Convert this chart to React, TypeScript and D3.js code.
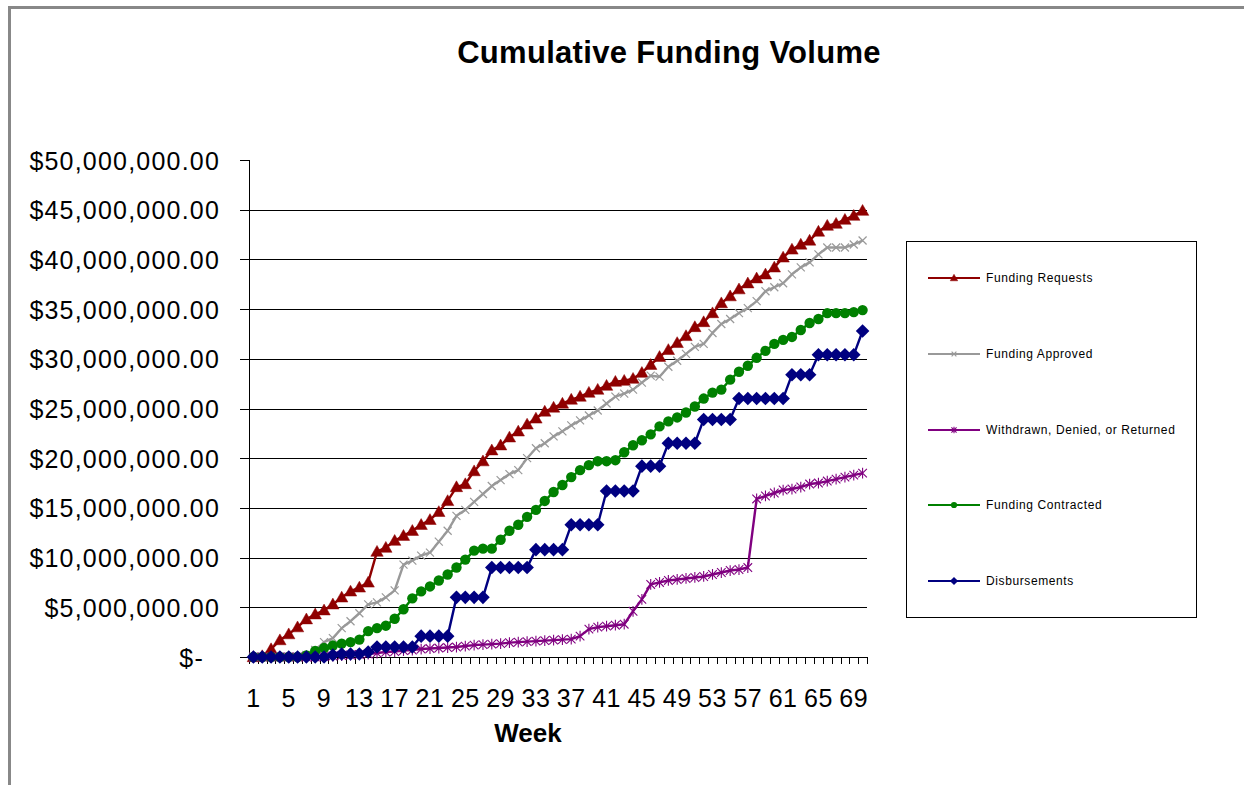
import React from "react";
import * as d3 from "d3";

const weeks: number[] = d3.range(1, 71);
const weekTickLabels: number[] = [1, 5, 9, 13, 17, 21, 25, 29, 33, 37, 41, 45, 49, 53, 57, 61, 65, 69];
const yTicks: number[] = [0, 5e6, 10e6, 15e6, 20e6, 25e6, 30e6, 35e6, 40e6, 45e6, 50e6];

// values in millions of dollars
const fundingRequests: number[] = [
  0, 0.1, 0.8, 1.7, 2.3, 3.0, 3.8, 4.3, 4.7, 5.3,
  6.0, 6.6, 7.0, 7.5, 10.6, 11.0, 11.7, 12.2, 12.7, 13.3,
  13.8, 14.6, 15.7, 17.1, 17.4, 18.7, 19.7, 20.8, 21.3, 22.1,
  22.7, 23.4, 24.0, 24.7, 25.1, 25.5, 25.9, 26.2, 26.6, 26.9,
  27.3, 27.7, 27.8, 28.0, 28.6, 29.4, 30.2, 30.9, 31.6, 32.3,
  33.2, 33.7, 34.6, 35.6, 36.3, 37.0, 37.6, 38.1, 38.5, 39.2,
  40.2, 41.0, 41.5, 41.9, 42.8, 43.4, 43.6, 44.0, 44.4, 44.9,
];
const fundingApproved: number[] = [
  0, 0, 0, 0, 0, 0, 0.2, 0.7, 1.5, 1.9,
  2.9, 3.6, 4.4, 5.3, 5.5, 6.0, 6.7, 9.3, 9.7, 10.2,
  10.5, 11.6, 12.7, 14.2, 14.8, 15.6, 16.4, 17.2, 17.8, 18.4,
  18.8, 20.0, 21.0, 21.5, 22.2, 22.7, 23.3, 23.8, 24.3, 24.8,
  25.5, 26.2, 26.5, 26.9, 27.6, 28.3, 28.2, 29.2, 29.8, 30.5,
  31.2, 31.5, 32.6, 33.5, 34.0, 34.6, 35.1, 35.8, 36.8, 37.2,
  37.6, 38.5, 39.2, 39.7, 40.5, 41.2, 41.2, 41.2, 41.5, 41.9,
];
const withdrawn: number[] = [
  0, 0, 0, 0, 0, 0, 0, 0, 0.05, 0.1,
  0.15, 0.2, 0.25, 0.3, 0.4, 0.5, 0.55, 0.65, 0.7, 0.8,
  0.85, 0.9, 0.95, 1.0, 1.1, 1.2, 1.25, 1.3, 1.35, 1.45,
  1.5, 1.55, 1.6, 1.65, 1.7, 1.75, 1.8, 2.1, 2.8, 3.0,
  3.1, 3.2, 3.3, 4.6, 5.8, 7.3, 7.5, 7.7, 7.8, 7.9,
  8.0, 8.1, 8.3, 8.5, 8.7, 8.8, 9.0, 15.9, 16.2, 16.5,
  16.8, 16.9, 17.1, 17.4, 17.5, 17.7, 17.9, 18.1, 18.3, 18.5,
];
const fundingContracted: number[] = [
  0, 0, 0, 0, 0, 0, 0.15, 0.6, 0.9, 1.15,
  1.35, 1.5, 1.75, 2.6, 2.9, 3.15, 3.85, 4.8, 5.9, 6.6,
  7.1, 7.7, 8.3, 9.0, 9.8, 10.7, 10.9, 10.9, 11.8, 12.7,
  13.3, 14.1, 14.8, 15.7, 16.6, 17.3, 18.1, 18.8, 19.3, 19.7,
  19.7, 19.8, 20.6, 21.3, 21.8, 22.4, 23.2, 23.7, 24.1, 24.6,
  25.2, 26.0, 26.6, 26.9, 27.9, 28.7, 29.3, 30.1, 30.8, 31.5,
  31.9, 32.2, 32.9, 33.6, 34.0, 34.6, 34.6, 34.6, 34.7, 34.9,
];
const disbursements: number[] = [
  0, 0, 0, 0, 0, 0, 0, 0, 0, 0.2,
  0.3, 0.3, 0.3, 0.5, 1.0, 1.0, 1.0, 1.0, 1.0, 2.1,
  2.1, 2.1, 2.1, 6.0, 6.0, 6.0, 6.0, 9.0, 9.0, 9.0,
  9.0, 9.0, 10.8, 10.8, 10.8, 10.8, 13.3, 13.3, 13.3, 13.3,
  16.7, 16.7, 16.7, 16.7, 19.2, 19.2, 19.2, 21.5, 21.5, 21.5,
  21.5, 23.9, 23.9, 23.9, 23.9, 26.0, 26.0, 26.0, 26.0, 26.0,
  26.0, 28.4, 28.4, 28.4, 30.4, 30.4, 30.4, 30.4, 30.4, 32.8,
];

type Marker = "triangle" | "x" | "star" | "circle" | "diamond";
const seriesNames: string[] = [
  "Funding Requests",
  "Funding Approved",
  "Withdrawn, Denied, or Returned",
  "Funding Contracted",
  "Disbursements",
];
const seriesValues: number[][] = [fundingRequests, fundingApproved, withdrawn, fundingContracted, disbursements];
const seriesColors: string[] = ["#8f0000", "#999999", "#800080", "#008000", "#000080"];
const seriesMarkers: Marker[] = ["triangle", "x", "star", "circle", "diamond"];

const FONT = "'Liberation Sans', Arial, sans-serif";

function MarkerShape({ type, color, cx, cy, s }: { type: Marker; color: string; cx: number; cy: number; s: number }) {
  const t = `translate(${cx},${cy})`;
  if (type === "triangle") {
    const r = 6.2 * s;
    return <path transform={t} d={`M0,${-r}L${r},${r * 0.75}L${-r},${r * 0.75}Z`} fill={color} stroke={color} strokeWidth={0.5} />;
  }
  if (type === "circle") {
    return <circle cx={cx} cy={cy} r={5.2 * s} fill={color} />;
  }
  if (type === "diamond") {
    const r = 6.8 * s;
    return <path transform={t} d={`M0,${-r}L${r},0L0,${r}L${-r},0Z`} fill={color} />;
  }
  if (type === "x") {
    const r = 4 * s;
    return <path transform={t} d={`M${-r},${-r}L${r},${r}M${-r},${r}L${r},${-r}`} stroke={color} strokeWidth={1.2} fill="none" />;
  }
  const r = 4.3 * s;
  return (
    <path
      transform={t}
      d={`M${-r},${-r}L${r},${r}M${-r},${r}L${r},${-r}M0,${-r * 1.25}V${r * 1.25}`}
      stroke={color}
      strokeWidth={1.1}
      fill="none"
    />
  );
}

export default function App() {
  const left = 249, right = 867, top = 160, bottom = 657;
  const x = d3.scaleBand<number>().domain(weeks).range([left, right]).padding(0);
  const y = d3.scaleLinear().domain([0, 50e6]).range([bottom, top]);
  const cx = (w: number) => (x(w) as number) + x.bandwidth() / 2;
  const fmt = d3.format("$,.2f");
  const line = d3
    .line<number>()
    .x((_, i) => cx(weeks[i]))
    .y((v) => y(v * 1e6));

  const boundaries = d3.range(0, weeks.length + 1).map((i) => left + i * x.bandwidth());
  const legendY = [278, 354, 430, 505, 581];

  return (
    <svg width={1244} height={785} style={{ position: "absolute", left: 0, top: 0, background: "#fff" }} fontFamily={FONT}>
      <rect x={0} y={0} width={1244} height={785} fill="#fff" />
      <path d="M9.5,800V7.5H1260" fill="none" stroke="#888" strokeWidth={3} />

      <text x={669} y={63} textAnchor="middle" fontSize={31} fontWeight="bold" letterSpacing={0.3} fill="#000">
        Cumulative Funding Volume
      </text>

      {/* gridlines */}
      {yTicks
        .filter((t) => t > 0 && t < 50e6)
        .map((t) => (
          <line key={"g" + t} x1={left} x2={right} y1={Math.round(y(t)) + 0.5} y2={Math.round(y(t)) + 0.5} stroke="#000" strokeWidth={1} />
        ))}

      {/* y axis */}
      <line x1={left + 0.5} x2={left + 0.5} y1={top} y2={bottom} stroke="#000" strokeWidth={1} />
      {yTicks.map((t) => (
        <g key={"y" + t}>
          <line x1={240} x2={left} y1={Math.round(y(t)) + 0.5} y2={Math.round(y(t)) + 0.5} stroke="#000" strokeWidth={1} />
          <text x={t === 0 ? 204 : 220} y={y(t) + 9.5} textAnchor="end" fontSize={25} letterSpacing={1.2} fill="#000">
            {t === 0 ? "$-" : fmt(t)}
          </text>
        </g>
      ))}

      {/* x axis */}
      <line x1={left} x2={right} y1={bottom + 0.5} y2={bottom + 0.5} stroke="#000" strokeWidth={1} />
      {boundaries.map((b, i) => (
        <line key={"xt" + i} x1={Math.round(b) + 0.5} x2={Math.round(b) + 0.5} y1={bottom} y2={bottom + 7} stroke="#000" strokeWidth={1} />
      ))}
      {weekTickLabels.map((w) => (
        <text key={"xl" + w} x={cx(w)} y={707} textAnchor="middle" fontSize={25} letterSpacing={0.5} fill="#000">
          {w}
        </text>
      ))}
      <text x={528} y={742} textAnchor="middle" fontSize={26} fontWeight="bold" fill="#000">
        Week
      </text>

      {/* series */}
      {seriesValues.map((vals, si) => (
        <g key={"s" + si}>
          <path d={line(vals) as string} fill="none" stroke={seriesColors[si]} strokeWidth={2.4} strokeLinejoin="round" />
          {vals.map((v, i) => (
            <MarkerShape key={i} type={seriesMarkers[si]} color={seriesColors[si]} cx={cx(weeks[i])} cy={y(v * 1e6)} s={1} />
          ))}
        </g>
      ))}

      {/* legend */}
      <rect x={906.5} y={241.5} width={290} height={376} fill="#fff" stroke="#000" strokeWidth={1} />
      {seriesNames.map((n, i) => (
        <g key={"l" + i}>
          <line x1={928} x2={980} y1={legendY[i]} y2={legendY[i]} stroke={seriesColors[i]} strokeWidth={2.2} />
          <MarkerShape type={seriesMarkers[i]} color={seriesColors[i]} cx={954} cy={legendY[i]} s={0.6} />
          <text x={986} y={legendY[i] + 4} fontSize={12} letterSpacing={0.6} fill="#000">
            {n}
          </text>
        </g>
      ))}
    </svg>
  );
}
